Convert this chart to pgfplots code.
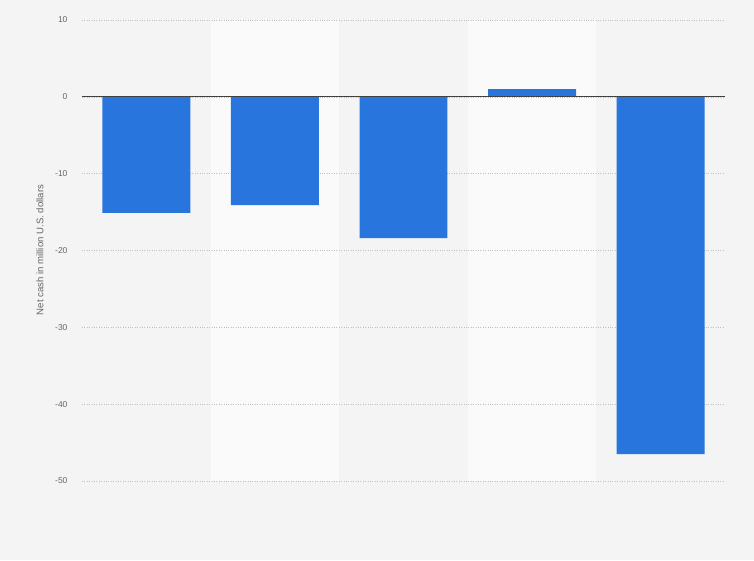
\documentclass[border=0pt]{standalone}
\usepackage{pgfplots}
\pgfplotsset{compat=1.18}
\usepackage{fontspec}
\setmainfont{Liberation Sans}
\definecolor{bg}{HTML}{F4F4F4}
\definecolor{band}{HTML}{FAFAFA}
\definecolor{barblue}{HTML}{2876DD}
\definecolor{tickgray}{HTML}{666666}
\begin{document}
\begin{tikzpicture}[x=1pt,y=1pt]
  \fill[bg] (0,0) rectangle (754,560);
  \useasboundingbox (0,0) rectangle (754,560);
  % alternating column bands behind the grid
  \fill[band] (210.6,79) rectangle (339.2,540);
  \fill[band] (467.8,79) rectangle (596.4,540);
  \begin{axis}[
    at={(82pt,79pt)}, anchor=south west,
    scale only axis, width=643pt, height=461pt,
    xmin=-0.5, xmax=4.5, ymin=-50, ymax=10,
    axis line style={draw=none},
    tick style={draw=none},
    ytick={-50,-40,...,10},
    xtick=\empty,
    ymajorgrids,
    grid style={dotted, color=black!25, line width=0.6pt},
    yticklabel style={font=\fontsize{8.5}{10}\selectfont, text=tickgray, xshift=-11pt},
    /pgf/number format/assume math mode=true,
    ylabel={Net cash in million U.S. dollars},
    ylabel style={font=\fontsize{9.6}{11}\selectfont, text=tickgray,
      at={(axis description cs:-0.0653,0.501)}, anchor=center},
    ybar, bar width=0.684,
    clip=false,
  ]
    \addplot[draw=none, fill=barblue, bar shift=0pt] coordinates {
      (0,-15.1) (1,-14.1) (2,-18.4) (3,1.0) (4,-46.5)
    };
    \draw[color=black!75, line width=0.8pt] (axis cs:-0.5,0) -- (axis cs:4.5,0);
  \end{axis}
\end{tikzpicture}
\end{document}
